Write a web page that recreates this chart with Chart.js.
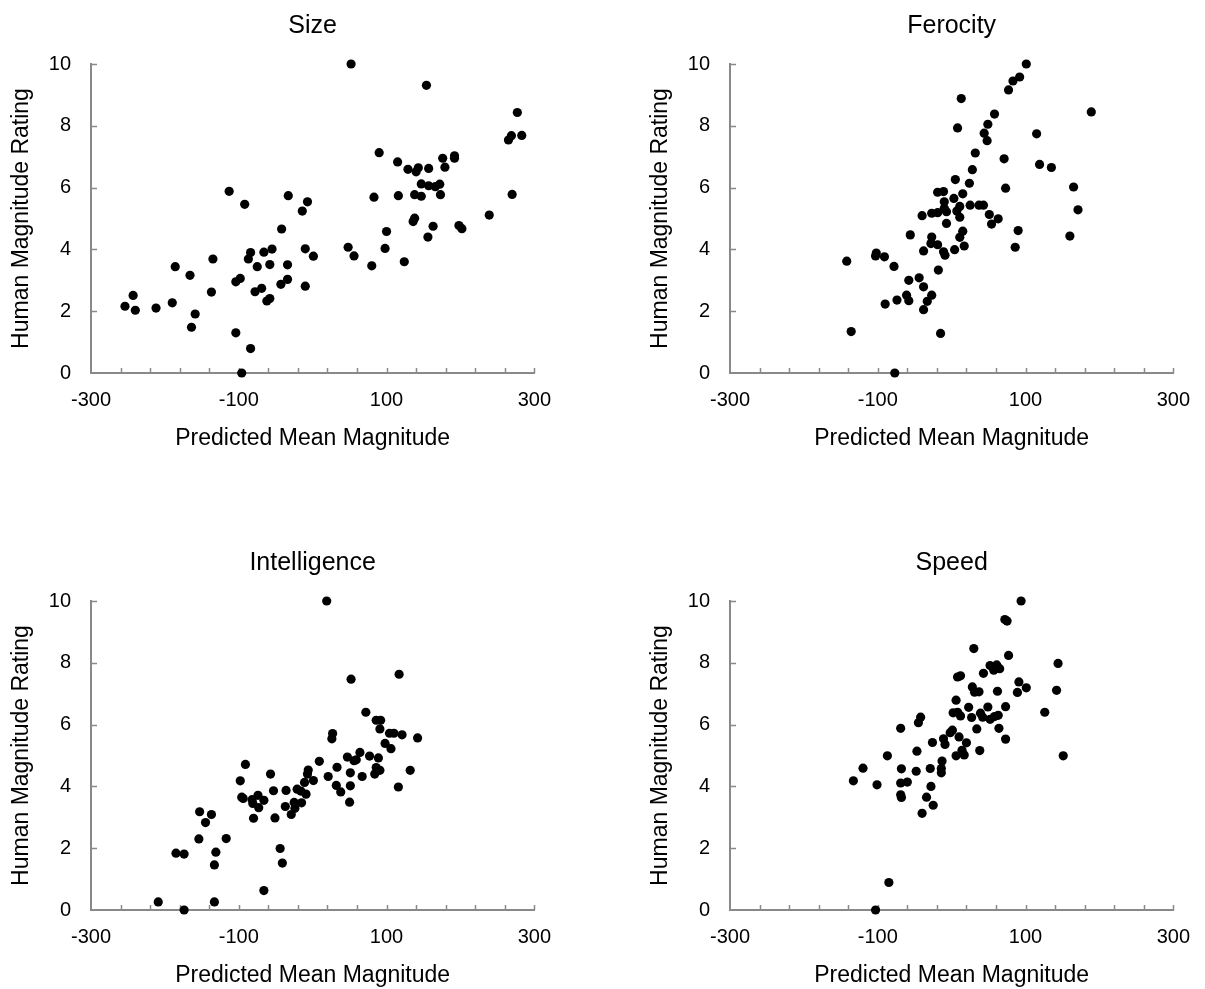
<!DOCTYPE html>
<html>
<head>
<meta charset="utf-8">
<script src="https://cdn.jsdelivr.net/npm/chart.js@4.4.1/dist/chart.umd.min.js"></script>
<style>
  body { margin: 0; background: #fff; }
  canvas { position: absolute; }
</style>
</head>
<body>
<canvas id="c1" width="566" height="452" style="left:0px;top:0px"></canvas>
<canvas id="c2" width="566" height="452" style="left:639px;top:0px"></canvas>
<canvas id="c3" width="566" height="452" style="left:0px;top:537px"></canvas>
<canvas id="c4" width="566" height="452" style="left:639px;top:537px"></canvas>
<script>
// panel titles
const titles = ['Size', 'Ferocity', 'Intelligence', 'Speed'];

// tick labels
const xTicks = [-300, -100, 100, 300];
const xMinorTicks = [-260, -220, -180, -140, -100, -60, -20, 20, 60, 100, 140, 180, 220, 260, 300];
const yTicks = [0, 2, 4, 6, 8, 10];

// Size
const sizeX = [-254, -243, -240, -212, -190, -186, -166, -164, -159, -137, -135, -113, -104, -104, -98, -92, -96, -84, -87, -84,
  -78, -75, -69, -66, -62, -58, -58, -55, -43, -42, -34, -34, -33, -14, -10, -10, -7, 1, 48, 52,
  56, 80, 83, 90, 98, 100, 115, 116, 124, 129, 136, 138, 138, 140, 143, 147, 147, 154, 156, 157,
  157, 163, 166, 172, 173, 176, 179, 192, 192, 198, 202, 239, 265, 269, 270, 277, 283];
const sizeY = [2.16, 2.51, 2.03, 2.10, 2.27, 3.44, 3.16, 1.48, 1.91, 2.62, 3.69, 5.88, 1.30, 2.95, 3.06, 5.46, 0, 0.79, 3.69, 3.90,
  2.63, 3.44, 2.74, 3.91, 2.33, 2.41, 3.51, 4.01, 2.87, 4.66, 3.50, 3.03, 5.74, 5.24, 4.02, 2.81, 5.54, 3.78, 4.07, 10,
  3.79, 3.47, 5.69, 7.13, 4.03, 4.58, 6.83, 5.74, 3.60, 6.59, 4.90, 5.01, 5.77, 6.51, 6.64, 6.12, 5.72, 9.31, 4.40, 6.62,
  6.06, 4.75, 6.03, 6.11, 5.77, 6.95, 6.66, 7.03, 6.95, 4.77, 4.67, 5.11, 7.54, 7.68, 5.78, 8.43, 7.69];

// Ferocity
const ferocityX = [-142, -136, -103, -102, -91, -90, -78, -77, -74, -61, -58, -58, -56, -44, -40, -38, -38, -38, -33, -27,
  -27, -27, -28, -19, -19, -19, -18, -15, -11, -11, -10, -9, -7, -7, -10, 3, 4, 5, 7, 8,
  11, 11, 11, 13, 15, 15, 17, 24, 25, 28, 32, 37, 43, 44, 48, 49, 51, 54, 58, 63,
  71, 73, 77, 83, 86, 90, 92, 101, 115, 119, 135, 160, 165, 171, 189];
const ferocityY = [3.62, 1.34, 3.79, 3.88, 3.76, 2.23, 3.45, 0, 2.36, 2.52, 3.00, 2.34, 4.47, 3.08, 5.09, 2.79, 3.95, 2.05, 2.32, 5.17,
  4.40, 2.52, 4.19, 4.15, 5.19, 5.85, 3.33, 1.28, 5.87, 3.92, 5.54, 3.81, 5.22, 4.84, 5.33, 5.65, 3.99, 6.26, 5.24, 7.93,
  5.39, 5.04, 4.39, 8.88, 5.80, 4.59, 4.11, 6.14, 5.43, 6.58, 7.12, 5.43, 5.43, 7.76, 7.52, 8.05, 5.13, 4.82, 8.38, 4.99,
  6.93, 5.98, 9.16, 9.45, 4.07, 4.61, 9.58, 10, 7.74, 6.75, 6.65, 4.43, 6.02, 5.28, 8.45];

// Intelligence
const intelligenceX = [-209, -185, -174, -174, -154, -153, -145, -137, -133, -131, -133, -117, -98, -96, -94, -91, -82, -81, -80, -74,
  -73, -66, -66, -57, -53, -51, -44, -41, -37, -36, -29, -25, -24, -21, -16, -15, -11, -9, -7, -6,
  1, 9, 19, 21, 26, 27, 32, 33, 38, 47, 50, 51, 51, 52, 56, 59, 64, 67, 72, 77,
  84, 86, 86, 89, 91, 91, 92, 98, 104, 106, 110, 116, 117, 121, 132, 142];
const intelligenceY = [0.26, 1.84, 1.81, 0, 2.30, 3.18, 2.83, 3.09, 1.46, 1.87, 0.26, 2.31, 4.18, 3.65, 3.61, 4.71, 3.57, 3.45, 2.97, 3.71,
  3.31, 3.55, 0.63, 4.40, 3.86, 2.98, 1.99, 1.52, 3.35, 3.87, 3.09, 3.48, 3.29, 3.91, 3.85, 3.47, 4.13, 3.75, 4.40, 4.53,
  4.19, 4.81, 10, 4.32, 5.54, 5.71, 4.03, 4.62, 3.82, 4.95, 3.49, 4.02, 4.44, 7.47, 4.83, 4.86, 5.10, 4.32, 6.40, 4.98,
  4.40, 4.61, 6.14, 4.92, 4.52, 5.86, 6.14, 5.39, 5.72, 5.22, 5.72, 3.98, 7.63, 5.67, 4.52, 5.57];

// Speed
const speedX = [-133, -120, -103, -101, -87, -85, -69, -68, -69, -69, -68, -60, -48, -47, -45, -42, -40, -34, -29, -28,
  -26, -25, -14, -14, -13, -11, -9, -2, 1, 2, 6, 6, 8, 8, 10, 12, 12, 14, 17, 20,
  23, 27, 28, 30, 31, 34, 37, 38, 39, 42, 43, 49, 52, 52, 57, 58, 61, 62, 63, 64,
  65, 72, 73, 73, 75, 77, 89, 91, 94, 101, 126, 142, 144, 151];
const speedY = [4.18, 4.59, 0, 4.05, 4.99, 0.89, 5.88, 4.57, 4.11, 3.73, 3.64, 4.14, 4.49, 5.14, 6.06, 6.24, 3.13, 3.65, 4.58, 4.00,
  5.42, 3.39, 4.44, 4.58, 4.82, 5.54, 5.36, 5.74, 5.82, 6.38, 6.79, 4.99, 7.54, 6.40, 5.60, 7.58, 6.28, 5.17, 5.02, 5.41,
  6.56, 6.23, 7.22, 8.46, 7.05, 5.86, 7.06, 5.16, 6.37, 6.24, 7.66, 6.57, 6.17, 7.91, 7.76, 6.26, 7.93, 7.08, 6.30, 5.88,
  7.81, 9.40, 6.58, 5.53, 9.35, 8.24, 7.04, 7.38, 10, 7.19, 6.40, 7.11, 7.98, 4.99];

const panelX = [sizeX, ferocityX, intelligenceX, speedX];
const panelY = [sizeY, ferocityY, intelligenceY, speedY];

const axisColor = '#898989';
const fontFamily = '"Liberation Sans", Arial, sans-serif';

// inward tick marks like the excel original
const tickMarks = {
  id: 'tickMarks',
  beforeDatasetsDraw(chart) {
    const ctx = chart.ctx;
    const x = chart.scales.x, y = chart.scales.y;
    ctx.save();
    ctx.strokeStyle = axisColor;
    ctx.lineWidth = 1.5;
    ctx.beginPath();
    yTicks.forEach(v => {
      if (v === 0) return;
      const py = Math.round(y.getPixelForValue(v)) + 0.5;
      ctx.moveTo(x.left, py);
      ctx.lineTo(x.left + 6, py);
    });
    xMinorTicks.forEach(v => {
      const px = Math.round(x.getPixelForValue(v)) + 0.5;
      ctx.moveTo(px, y.bottom);
      ctx.lineTo(px, y.bottom - 5);
    });
    ctx.stroke();
    ctx.restore();
  }
};

function makeChart(i) {
  const ctx = document.querySelector('#c' + (i + 1));
  const points = panelX[i].map((v, k) => ({x: v, y: panelY[i][k]}));
  return new Chart(ctx, {
    type: 'scatter',
    data: {
      datasets: [{
        data: points,
        pointRadius: 4.6,
        pointHoverRadius: 4.6,
        backgroundColor: '#000',
        borderWidth: 0,
        clip: false
      }]
    },
    options: {
      responsive: false,
      animation: false,
      devicePixelRatio: 1,
      events: [],
      layout: { padding: { left: 0, right: 2.3, top: 0, bottom: 0 } },
      plugins: {
        legend: { display: false },
        tooltip: { enabled: false },
        title: {
          display: true,
          text: titles[i],
          fullSize: false,
          color: '#000',
          font: { family: fontFamily, size: 25, weight: 'normal', lineHeight: 1.2 },
          padding: { top: 11, bottom: 23 }
        }
      },
      scales: {
        x: {
          type: 'linear',
          min: -300,
          max: 300,
          afterBuildTicks: s => { s.ticks = xTicks.map(v => ({value: v})); },
          afterFit: s => { s.height = 79; },
          grid: { display: false, drawTicks: false },
          border: { display: true, color: axisColor, width: 2 },
          ticks: {
            color: '#000',
            padding: 15,
            maxRotation: 0,
            font: { family: fontFamily, size: 20 },
            callback: v => String(v)
          },
          title: {
            display: true,
            text: 'Predicted Mean Magnitude',
            color: '#000',
            font: { family: fontFamily, size: 23, lineHeight: 1.2 },
            padding: { top: 0, bottom: 0 }
          }
        },
        y: {
          type: 'linear',
          min: 0,
          max: 10,
          afterBuildTicks: s => { s.ticks = yTicks.map(v => ({value: v})); },
          afterFit: s => { s.width = 91; },
          grid: { display: false, drawTicks: false },
          border: { display: true, color: axisColor, width: 2 },
          ticks: {
            color: '#000',
            padding: 20,
            font: { family: fontFamily, size: 20 },
            callback: v => String(v)
          },
          title: {
            display: true,
            text: 'Human Magnitude Rating',
            color: '#000',
            font: { family: fontFamily, size: 23, lineHeight: 1.2 },
            padding: { top: 8.2, bottom: 0 }
          }
        }
      }
    },
    plugins: [tickMarks]
  });
}

const charts = [0, 1, 2, 3].map(makeChart);
</script>
</body>
</html>
